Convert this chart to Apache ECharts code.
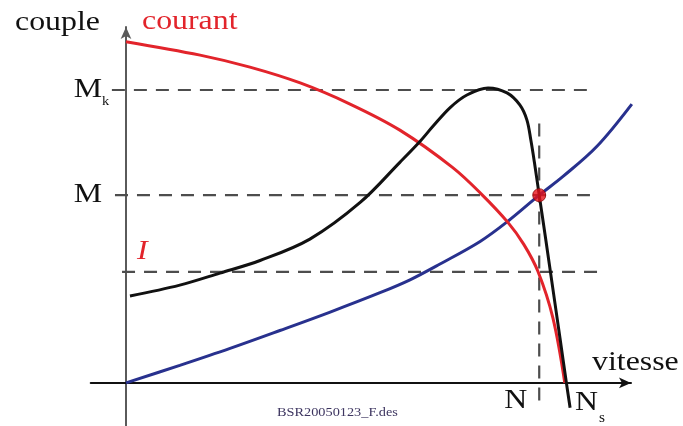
<!DOCTYPE html>
<html><head><meta charset="utf-8">
<script src="https://cdn.jsdelivr.net/npm/echarts@6/dist/echarts.min.js"></script>
<style>html,body{margin:0;padding:0;background:#fff}#c{width:683px;height:426px}</style>
</head><body><div id="c"></div>
<script>
// ---- data (speed in % of Ns, torque / current in arbitrary units, Mk = 10) ----
const courantX = [0, 16.8, 28.1, 39.5, 50.8, 62.1, 74.1, 80.7, 86.6, 90.2, 93.4, 96.8, 99.5];
const courantY = [11.65, 11.19, 10.78, 10.24, 9.52, 8.63, 7.35, 6.43, 5.48, 4.73, 3.81, 2.22, 0];

const coupleX = [0.9, 12.2, 21.3, 30.4, 41.7, 53.1, 62.1, 66.7, 69.6, 73.5, 77.3, 82.1, 86.4, 89.3, 90.9, 91.8, 92.6, 93.7, 95.2, 96.8, 98.4, 99.8, 100.7];
const coupleY = [2.97, 3.34, 3.75, 4.18, 4.91, 6.16, 7.53, 8.25, 8.76, 9.40, 9.83, 10.07, 9.90, 9.49, 8.98, 8.29, 7.54, 6.41, 4.88, 3.21, 1.54, 0.07, -0.85];

const chargeX = [0, 12.2, 23.6, 34.9, 46.3, 57.6, 64.4, 71.2, 80.3, 86.6, 93.7, 99.1, 106.8, 114.7];
const chargeY = [0, 0.60, 1.18, 1.79, 2.42, 3.08, 3.52, 4.06, 4.83, 5.52, 6.41, 7.05, 8.08, 9.52];

const operatingPoint = [93.7, 6.41];

// reference levels and their dashed guide extents
const levelValues = [10, 6.41, 3.79];
const levelStartX = [-3.2, -2.5, -0.9];
const levelEndX = [104.5, 105.2, 107];
const speedN = 93.7;
const speedNLineY = [-0.6, 8.9];

// tick labels
const yTickValues = [10, 6.41];
const yTickText = ['M', 'M'];
const yTickSub = ['k', ''];
const xTickValues = [93.7, 100];
const xTickText = ['N', 'N'];
const xTickSub = ['', 's'];
const currentLabel = 'I';
const currentLevel = 3.79;

const zip = (a, b) => a.map((v, i) => [v, b[i]]);

const chart = echarts.init(document.getElementById('c'), null, {renderer: 'canvas'});

const SERIF = '"Liberation Serif", "Times New Roman", serif';
const SX = 1.18;
const RED = '#e2242b', BLACK = '#111111', BLUE = '#28318e', GREY = '#4d4d4d';

const dashStyle = {color: GREY, width: 2.2, type: [13, 9]};

const series = [];
levelValues.forEach((v, i) => {
  series.push({type: 'line', data: [[levelStartX[i], v], [levelEndX[i], v]], showSymbol: false, silent: true,
    lineStyle: dashStyle, z: 1, clip: false});
});
series.push({type: 'line', data: [[speedN, speedNLineY[0]], [speedN, speedNLineY[1]]], showSymbol: false, silent: true,
  lineStyle: dashStyle, z: 1, clip: false});
series.push({name: 'charge', type: 'line', data: zip(chargeX, chargeY), smooth: 0.35, showSymbol: false,
  lineStyle: {color: BLUE, width: 3}, z: 3, clip: false});
series.push({name: 'courant', type: 'line', data: zip(courantX, courantY), smooth: 0.35, showSymbol: false,
  lineStyle: {color: RED, width: 3}, z: 4, clip: false});
series.push({name: 'couple', type: 'line', data: zip(coupleX, coupleY), smooth: 0.35, showSymbol: false,
  lineStyle: {color: BLACK, width: 3}, z: 5, clip: false});
series.push({type: 'scatter', data: [operatingPoint], symbolSize: 13,
  itemStyle: {color: '#e8121b', borderColor: '#8a0b0b', borderWidth: 1}, z: 6});

chart.setOption({
  animation: false,
  backgroundColor: '#fff',
  grid: {left: 90.72, top: 27, width: 540.27, height: 399.07},
  xAxis: {type: 'value', min: -8, max: 114.51,
    axisLine: {onZero: true, symbol: ['none', 'arrow'], symbolSize: [8, 12], lineStyle: {color: '#111', width: 2}},
    axisTick: {show: false}, axisLabel: {show: false}, splitLine: {show: false}},
  yAxis: {type: 'value', min: -1.47, max: 12.15,
    axisLine: {onZero: true, symbol: ['none', 'arrow'], symbolSize: [8, 12], lineStyle: {color: '#5a5a5a', width: 2}},
    axisTick: {show: false}, axisLabel: {show: false}, splitLine: {show: false}},
  series: series
});

function txt(str, x, y, size, color, align, italic, sx) {
  return {type: 'text', x: x, y: y, scaleX: sx || SX, silent: true, z: 10,
    style: {text: str, font: (italic ? 'italic ' : '') + size + 'px ' + SERIF, fill: color,
      textAlign: align, align: align, textVerticalAlign: 'middle', verticalAlign: 'middle'}};
}
const px = (p) => chart.convertToPixel({gridIndex: 0}, p);

const g = [];
g.push(txt('couple', 15, 23, 27, BLACK, 'left'));
g.push(txt('courant', 142, 22, 27, RED, 'left'));
g.push(txt('vitesse', 592, 363, 27, BLACK, 'left'));
yTickValues.forEach((v, i) => {
  const p = px([0, v]);
  g.push(txt(yTickText[i], p[0] - 24, p[1] - 0.5, 27, BLACK, 'right'));
  if (yTickSub[i]) g.push(txt(yTickSub[i], p[0] - 24, p[1] + 12, 13, BLACK, 'left', false, 1.1));
});
xTickValues.forEach((v, i) => {
  const p = px([v, 0]);
  if (xTickSub[i]) {
    g.push(txt(xTickText[i], p[0] + 8, p[1] + 20, 27, BLACK, 'left'));
    g.push(txt(xTickSub[i], p[0] + 32, p[1] + 35, 14, BLACK, 'left', false, 1.1));
  } else {
    g.push(txt(xTickText[i], p[0] - 12, p[1] + 18, 27, BLACK, 'right'));
  }
});
const pi = px([0, currentLevel]);
g.push(txt(currentLabel, pi[0] + 11, pi[1] - 20.5, 27, RED, 'left', true));
g.push(txt('BSR20050123_F.des', 277, 413, 13, '#3d3560', 'left', false, 1.1));

chart.setOption({graphic: {elements: g}});
</script>
</body></html>
